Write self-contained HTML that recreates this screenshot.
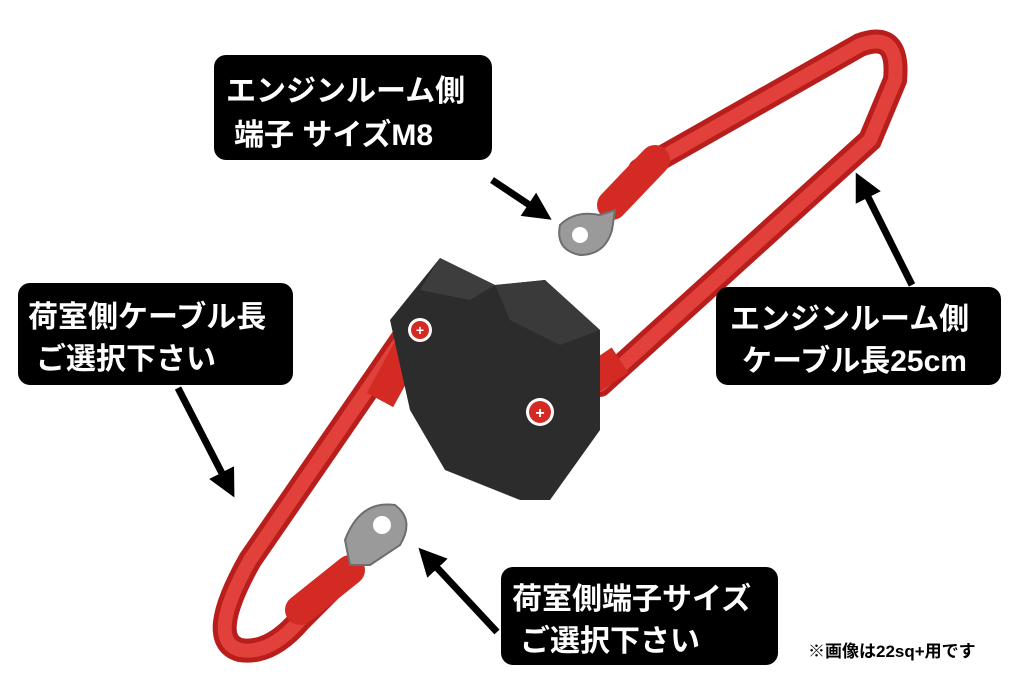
<!DOCTYPE html>
<html><head><meta charset="utf-8"><style>
html,body{margin:0;padding:0;background:#fff;width:1024px;height:692px;overflow:hidden}
text{font-family:"Liberation Sans","Noto Sans CJK JP",sans-serif;font-weight:bold}
</style></head><body>
<svg width="1024" height="692" viewBox="0 0 1024 692" xmlns="http://www.w3.org/2000/svg">
<defs>
<marker id="ah" viewBox="0 0 10 10" refX="5" refY="5" markerWidth="4" markerHeight="4" orient="auto-start-reverse"><path d="M0,0 L10,5 L0,10 z" fill="#000"/></marker>
</defs>
<path d="M640,170 L860,45 Q900,30 895,80 L870,140 L600,385" fill="none" stroke="#b81e1c" stroke-width="24" stroke-linecap="round"/>
<path d="M640,170 L860,45 Q900,30 895,80 L870,140 L600,385" fill="none" stroke="#e2403a" stroke-width="14" stroke-linecap="round"/>
<path d="M405,335 L250,560 Q205,640 240,650 Q270,655 300,620 L330,590" fill="none" stroke="#b81e1c" stroke-width="24" stroke-linecap="round"/>
<path d="M405,335 L250,560 Q205,640 240,650 Q270,655 300,620 L330,590" fill="none" stroke="#e2403a" stroke-width="14" stroke-linecap="round"/>
<line x1="612" y1="205" x2="655" y2="160" stroke="#d42a24" stroke-width="30" stroke-linecap="round"/>
<line x1="575" y1="390" x2="620" y2="360" stroke="#d42a24" stroke-width="30"/>
<line x1="380" y1="400" x2="410" y2="345" stroke="#d42a24" stroke-width="30"/>
<line x1="300" y1="610" x2="350" y2="570" stroke="#d42a24" stroke-width="30" stroke-linecap="round"/>
<g fill="#9a9a9a" stroke="#6e6e6e" stroke-width="2">
<path d="M560,225 Q575,210 600,215 L615,210 L612,230 Q605,255 580,255 Q555,250 560,225z"/>
<path d="M345,540 Q360,500 395,505 Q415,520 400,545 L370,565 L350,565z"/>
</g>
<circle cx="580" cy="235" r="8" fill="#fff"/>
<circle cx="382" cy="525" r="9" fill="#fff"/>
<polygon points="440,258 495,285 545,280 600,330 600,430 550,500 520,500 445,470 410,410 390,320" fill="#2c2c2c"/>
<polygon points="440,258 495,285 470,300 420,290" fill="#3d3d3d"/>
<polygon points="495,285 545,280 600,330 560,345 510,320" fill="#3a3a3a"/>
<circle cx="420" cy="330" r="12" fill="#fff"/><circle cx="420" cy="330" r="9" fill="#d42a24"/>
<text x="420" y="335" text-anchor="middle" font-size="14" fill="#fff">+</text>
<circle cx="540" cy="412" r="14" fill="#fff"/><circle cx="540" cy="412" r="11" fill="#d42a24"/>
<text x="540" y="418" text-anchor="middle" font-size="16" fill="#fff">+</text>
<g stroke="#000" stroke-width="7" fill="none">
<line x1="492" y1="180" x2="540" y2="212" marker-end="url(#ah)"/>
<line x1="912" y1="285" x2="862" y2="185" marker-end="url(#ah)"/>
<line x1="178" y1="388" x2="228" y2="485" marker-end="url(#ah)"/>
<line x1="497" y1="632" x2="428" y2="558" marker-end="url(#ah)"/>
</g>
<rect x="214" y="55" width="278" height="105" rx="12" fill="#000"/>
<text x="226" y="101" font-size="30" fill="#fff">エンジンルーム側</text>
<text x="234" y="145" font-size="30" fill="#fff">端子  サイズM8</text>
<rect x="18" y="283" width="275" height="102" rx="12" fill="#000"/>
<text x="28" y="327" font-size="30" fill="#fff">荷室側ケーブル長</text>
<text x="36" y="369" font-size="30" fill="#fff">ご選択下さい</text>
<rect x="716" y="287" width="285" height="98" rx="12" fill="#000"/>
<text x="730" y="329" font-size="30" fill="#fff">エンジンルーム側</text>
<text x="742" y="371" font-size="30" fill="#fff">ケーブル長25cm</text>
<rect x="501" y="567" width="277" height="98" rx="12" fill="#000"/>
<text x="512" y="609" font-size="30" fill="#fff">荷室側端子サイズ</text>
<text x="520" y="651" font-size="30" fill="#fff">ご選択下さい</text>
<text x="808" y="657" font-size="17" fill="#000">※画像は22sq+用です</text>
</svg>
</body></html>
